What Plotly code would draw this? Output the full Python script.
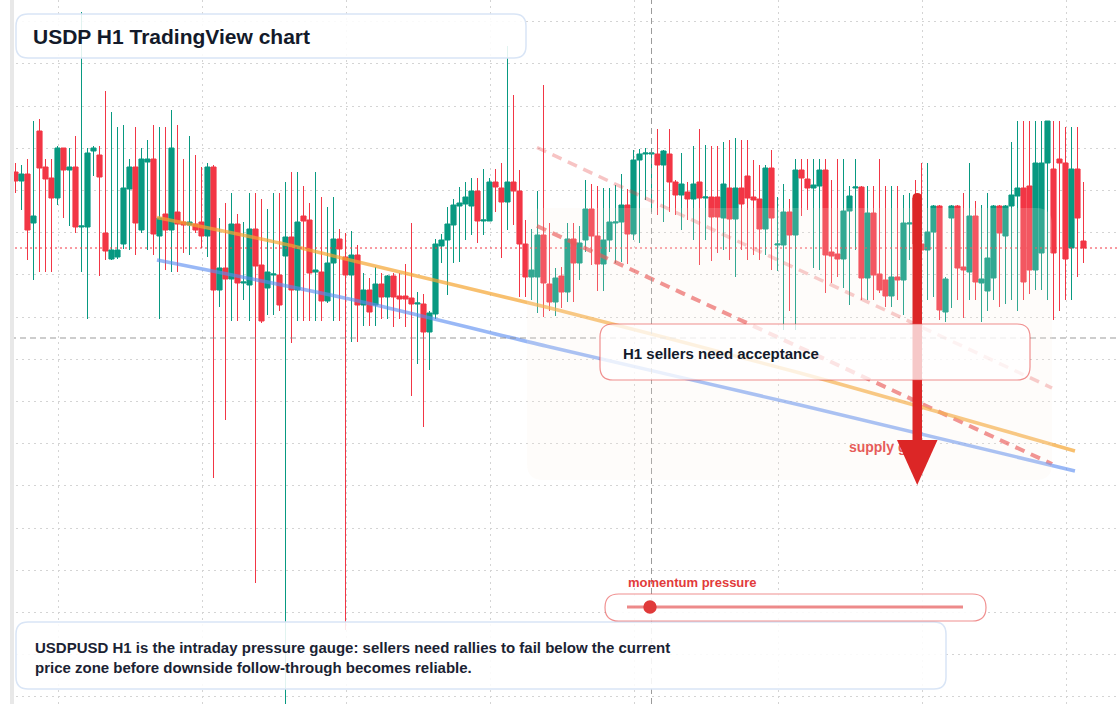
import plotly.graph_objects as go

# ---------------- data (prices expressed in pips above BASE) ----------------
BASE = 1.3000
PIP = 0.0001

open_pips = [532,523,530,481,573,537,526,506,556,534,
             537,477,477,553,549,471,445,447,460,515,
             537,474,542,545,468,490,474,492,482,479,
             480,482,468,537,414,436,425,480,421,419,
             475,439,416,429,429,448,467,414,488,484,
             432,432,403,441,465,447,429,449,399,414,
             399,420,407,428,408,408,406,400,400,372,
             390,458,464,479,498,500,498,513,483,483,
             522,516,502,522,513,460,427,427,469,420,
             402,428,412,465,441,464,495,468,440,464,
             481,482,499,470,544,550,550,550,539,550,
             522,509,512,505,522,506,507,507,486,516,
             485,516,528,507,505,475,536,459,459,492,
             469,534,525,516,518,534,452,450,445,493,
             516,517,426,491,430,424,408,427,424,480,
             506,460,454,472,498,392,486,498,437,432,
             488,421,413,426,498,468,498,508,516,518,
             434,451,541,535,545,541,456,535,463]
high_pips = [541,539,545,583,585,545,545,558,556,556,
             568,692,556,558,558,613,592,577,579,545,
             577,556,564,579,577,577,594,579,545,568,
             549,537,541,539,486,501,511,490,482,511,
             511,505,495,511,511,522,532,532,518,501,
             532,507,497,507,475,471,473,459,431,426,
             437,431,429,431,431,440,481,412,410,393,
             465,470,497,505,517,522,526,526,535,526,
             535,541,658,609,534,484,475,513,619,481,
             436,437,481,481,478,524,520,518,516,516,
             519,530,515,554,555,556,556,575,554,575,
             524,551,522,558,575,559,558,558,562,564,
             566,564,564,544,539,539,554,507,520,505,
             545,545,545,545,545,545,524,545,545,518,
             545,518,518,518,545,518,518,518,509,511,
             524,541,541,499,499,427,499,499,511,541,
             503,499,511,499,499,499,562,583,583,583,
             583,583,583,583,583,577,577,577,522]
low_pips = [511,494,444,424,432,432,432,499,486,478,
            471,432,385,528,428,444,444,445,455,454,
            449,471,454,449,385,434,432,432,451,449,
            471,456,447,226,397,284,383,383,404,383,
            121,381,389,389,393,-6,361,383,383,383,
            383,383,401,383,383,74,362,362,378,378,
            378,385,385,377,385,377,308,340,277,334,
            385,441,409,441,442,464,469,461,469,483,
            492,446,474,479,407,407,404,391,387,393,
            388,396,402,402,424,452,439,413,413,452,
            441,442,440,464,461,504,492,489,482,492,
            489,474,484,464,439,464,443,451,454,444,
            427,454,444,449,444,449,434,433,374,393,
            374,488,494,436,434,411,421,427,416,399,
            454,404,404,404,411,397,397,404,389,444,
            442,404,404,407,384,382,396,404,386,404,
            404,382,393,404,397,400,404,393,404,410,
            414,414,404,384,393,404,404,427,441]
close_pips = [523,530,474,488,536,525,506,556,534,537,
              477,478,551,556,527,453,454,454,516,537,
              481,545,545,470,486,474,556,480,479,482,
              474,468,537,414,436,425,480,421,422,475,
              438,383,432,430,399,467,414,482,483,431,
              434,403,441,465,455,429,449,399,414,392,
              420,407,428,407,405,405,400,401,372,391,
              460,464,480,499,501,507,513,483,484,522,
              517,502,522,513,460,427,434,469,421,402,
              426,412,465,441,461,495,468,440,464,482,
              482,499,470,544,550,551,551,539,553,522,
              509,520,505,520,506,507,487,487,520,485,
              516,500,506,504,475,536,486,460,492,469,
              534,526,516,519,534,449,448,445,493,508,
              517,426,491,429,414,408,427,424,481,481,
              460,454,472,498,394,425,498,436,434,488,
              422,425,446,498,471,498,509,516,422,434,
              541,541,583,451,541,445,535,486,456]

bars = list(range(len(open_pips)))

# trend / channel lines (bar index, pips)
orange_bar = [23.58, 44.08, 56.42, 89.08, 130.75, 176.58]
orange_pips = [486.5, 461, 443, 396, 331, 253]
blue_bar = [23.58, 56.42, 89.08, 130.75, 176.58]
blue_pips = [444, 404, 357, 299, 233]
red_bar = [86.92, 172.75]
red_pips = [478, 240]
red_faint_pips = [556.5, 316]

crosshair_bar = 106
crosshair_pips = 366
last_price_pips = close_pips[-1]

title_text = "USDP H1 TradingView chart"
callout_text = "H1 sellers need acceptance"
zone_text = "supply gate"
gauge_label = "momentum pressure"
note_lines = ["USDPUSD H1 is the intraday pressure gauge: sellers need rallies to fail below the current",
              "price zone before downside follow-through becomes reliable."]

def px(p):
    return [BASE + v * PIP for v in p]

GREEN = "#089981"
RED = "#f23645"
FONT = "Liberation Sans, Arial, sans-serif"

W, H = 1120, 704
L = 10
PW = W - L

def X(p):
    return (p - L) / PW

def Y(p):
    return (H - p) / H

def rr_path(x0, y0, x1, y1, r):
    pts = [("M", [(x0 + r, y0)]), ("L", [(x1 - r, y0)]), ("Q", [(x1, y0), (x1, y0 + r)]),
           ("L", [(x1, y1 - r)]), ("Q", [(x1, y1), (x1 - r, y1)]), ("L", [(x0 + r, y1)]),
           ("Q", [(x0, y1), (x0, y1 - r)]), ("L", [(x0, y0 + r)]), ("Q", [(x0, y0), (x0 + r, y0)])]
    s = ""
    for cmd, ps in pts:
        s += cmd + " " + " ".join(f"{X(a):.5f},{Y(b):.5f}" for a, b in ps) + " "
    return s + "Z"

fig = go.Figure()

fig.add_trace(go.Candlestick(
    x=bars, open=px(open_pips), high=px(high_pips), low=px(low_pips), close=px(close_pips),
    increasing=dict(line=dict(color=GREEN, width=1), fillcolor=GREEN),
    decreasing=dict(line=dict(color=RED, width=1), fillcolor=RED),
    whiskerwidth=0, showlegend=False, hoverinfo="skip"))

fig.add_trace(go.Scatter(x=red_bar, y=px(red_faint_pips), mode="lines",
                         line=dict(color="rgba(230,60,60,0.3)", width=3.5, dash="10px,7px"),
                         showlegend=False, hoverinfo="skip"))
fig.add_trace(go.Scatter(x=red_bar, y=px(red_pips), mode="lines",
                         line=dict(color="rgba(230,60,60,0.65)", width=4, dash="10px,7px"),
                         showlegend=False, hoverinfo="skip"))
fig.add_trace(go.Scatter(x=orange_bar, y=px(orange_pips), mode="lines",
                         line=dict(color="rgba(245,165,50,0.7)", width=3.5, shape="spline", smoothing=0.6),
                         showlegend=False, hoverinfo="skip"))
fig.add_trace(go.Scatter(x=blue_bar, y=px(blue_pips), mode="lines",
                         line=dict(color="rgba(90,140,240,0.62)", width=3.5, shape="spline", smoothing=0.6),
                         showlegend=False, hoverinfo="skip"))
fig.add_trace(go.Scatter(x=[138.9], y=px([256]), mode="text", text=[zone_text],
                         textposition="middle right",
                         textfont=dict(family=FONT, size=14, color="#e23b3b", weight="bold"),
                         showlegend=False, hoverinfo="skip"))

shapes = []
# current price dotted line
shapes.append(dict(type="line", xref="paper", yref="y", x0=0, x1=1,
                   y0=BASE + last_price_pips * PIP, y1=BASE + last_price_pips * PIP,
                   line=dict(color=RED, width=1, dash="2px,3px"), layer="above"))
# crosshair
shapes.append(dict(type="line", xref="paper", yref="y", x0=0, x1=1,
                   y0=BASE + crosshair_pips * PIP, y1=BASE + crosshair_pips * PIP,
                   line=dict(color="rgba(130,130,130,0.8)", width=1, dash="6px,4px"), layer="above"))
shapes.append(dict(type="line", xref="x", yref="paper", x0=crosshair_bar, x1=crosshair_bar, y0=0, y1=1,
                   line=dict(color="rgba(130,130,130,0.8)", width=1, dash="6px,4px"), layer="above"))
# supply zone
shapes.append(dict(type="path", xref="paper", yref="paper", path=rr_path(527, 208, 1052, 480, 16),
                   fillcolor="rgba(250,236,225,0.18)", line=dict(width=0), layer="above"))
# arrow shaft
shaft = (f"M {X(912.5):.5f},{Y(442):.5f} L {X(912.5):.5f},{Y(197.5):.5f} "
         f"Q {X(912.5):.5f},{Y(193):.5f} {X(917.25):.5f},{Y(193):.5f} "
         f"Q {X(922):.5f},{Y(193):.5f} {X(922):.5f},{Y(197.5):.5f} "
         f"L {X(922):.5f},{Y(442):.5f} Z")
shapes.append(dict(type="path", xref="paper", yref="paper", path=shaft,
                   fillcolor="#dc2626", line=dict(width=0), layer="above"))
# callout box
shapes.append(dict(type="path", xref="paper", yref="paper", path=rr_path(600, 324, 1030, 380, 13),
                   fillcolor="rgba(255,255,255,0.75)", line=dict(color="rgba(230,70,70,0.6)", width=1.2),
                   layer="above"))
# arrowhead
head = f"M {X(897):.5f},{Y(440):.5f} L {X(937.5):.5f},{Y(440):.5f} L {X(917.25):.5f},{Y(485):.5f} Z"
shapes.append(dict(type="path", xref="paper", yref="paper", path=head,
                   fillcolor="#dc2626", line=dict(width=0), layer="above"))
# title box
shapes.append(dict(type="path", xref="paper", yref="paper", path=rr_path(16, 14, 526, 58, 12),
                   fillcolor="rgba(255,255,255,0.88)", line=dict(color="#d9e5f6", width=1.5),
                   layer="above"))
# bottom note box
shapes.append(dict(type="path", xref="paper", yref="paper", path=rr_path(16, 622, 946, 689, 12),
                   fillcolor="rgba(255,255,255,0.88)", line=dict(color="#d9e5f6", width=1.5),
                   layer="above"))
# gauge pill
shapes.append(dict(type="path", xref="paper", yref="paper", path=rr_path(605, 594, 986, 621, 13.5),
                   fillcolor="rgba(255,255,255,0.88)", line=dict(color="rgba(230,70,70,0.6)", width=1.2),
                   layer="above"))
shapes.append(dict(type="line", xref="paper", yref="paper", x0=X(627), x1=X(963), y0=Y(607), y1=Y(607),
                   line=dict(color="rgba(225,60,60,0.6)", width=3), layer="above"))
shapes.append(dict(type="circle", xref="paper", yref="paper", x0=X(643.3), x1=X(656.7),
                   y0=Y(613.7), y1=Y(600.3), fillcolor="#e03a3a", line=dict(width=0), layer="above"))
# left grey strip
shapes.append(dict(type="rect", xref="paper", yref="paper", x0=0, x1=X(14), y0=0, y1=1,
                   fillcolor="#e8e8e8", line=dict(width=0), layer="above"))

annotations = [
    dict(text=title_text, x=X(31), y=Y(36), font=dict(family=FONT, size=21, color="#131a2a", weight="bold")),
    dict(text=callout_text, x=X(621), y=Y(353), font=dict(family=FONT, size=15, color="#131a2a", weight="bold")),
    dict(text=gauge_label, x=X(626), y=Y(582), font=dict(family=FONT, size=13, color="#e23b3b", weight="bold")),
    dict(text=note_lines[0], x=X(33), y=Y(647), font=dict(family=FONT, size=15, color="#1b2333", weight="bold")),
    dict(text=note_lines[1], x=X(33), y=Y(667), font=dict(family=FONT, size=15, color="#1b2333", weight="bold")),
]
for a in annotations:
    a.update(xref="paper", yref="paper", xanchor="left", yanchor="middle", showarrow=False)

# x axis: bar centres land on half-pixels (6 px per bar) so wicks stay crisp
fig.update_layout(
    width=W, height=H,
    margin=dict(l=L, r=0, t=0, b=0, pad=0),
    paper_bgcolor="white", plot_bgcolor="white",
    showlegend=False,
    boxgap=0.1, boxgroupgap=0.05,
    shapes=shapes, annotations=annotations,
    xaxis=dict(range=[-0.91667, 184.08333], showticklabels=False, zeroline=False, showline=False,
               showgrid=True, tick0=7.1667, dtick=24, gridcolor="#d4d4d4", gridwidth=1,
               griddash="2px,4px", rangeslider=dict(visible=False), fixedrange=True),
    yaxis=dict(range=[BASE, BASE + 704 * PIP], showticklabels=False, zeroline=False, showline=False,
               showgrid=True, tick0=BASE + 7.2 * PIP, dtick=42.2 * PIP, gridcolor="#d4d4d4", gridwidth=1,
               griddash="2px,4px", fixedrange=True),
)

fig.write_html("out.html", config={"displayModeBar": False})
